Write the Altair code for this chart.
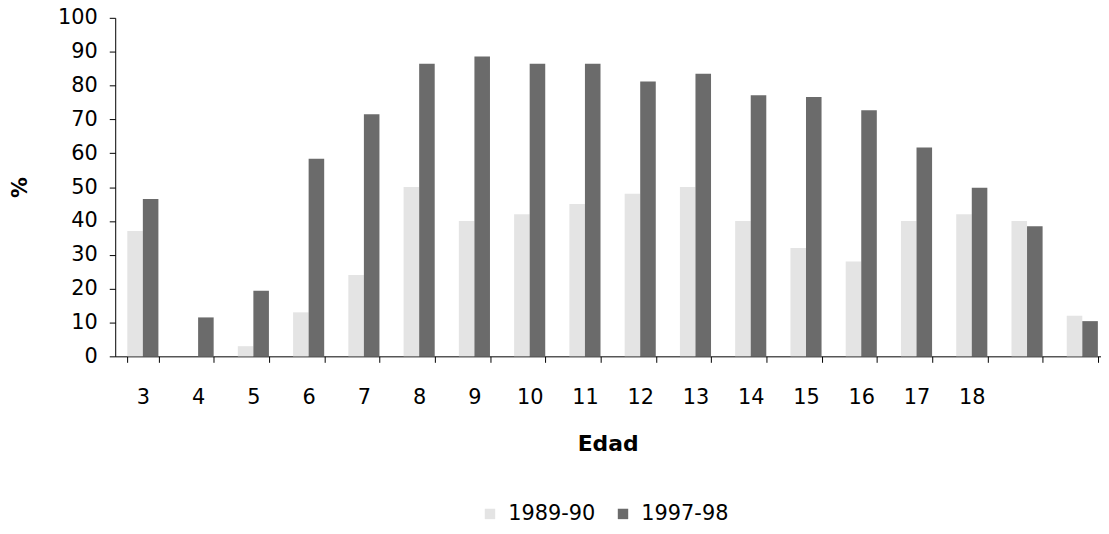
import altair as alt
import pandas as pd

# Ages (the last two categories carry no label in the original)
edad = list(range(3, 21))
# 1989-90 (light, faint stipple) - estimated
s1989 = [37, 0, 3, 13, 24, 50, 40, 42, 45, 48, 50, 40, 32, 28, 40, 42, 40, 12]
# 1997-98 (dark stipple)
s1997 = [46.5, 11.5, 19.4, 58.4, 71.5, 86.4, 88.6, 86.4, 86.4, 81.2, 83.5,
         77.1, 76.6, 72.7, 61.7, 49.8, 38.4, 10.4]
series = ["1989-90", "1997-98"]
colors = ["#e4e4e4", "#6b6b6b"]
y_ticks = list(range(0, 101, 10))

rows = []
for i, e in enumerate(edad):
    rows.append({"Edad": e, "Periodo": series[0], "pct": s1989[i]})
    rows.append({"Edad": e, "Periodo": series[1], "pct": s1997[i]})
df = pd.DataFrame(rows)

FONT = "DejaVu Sans"

chart = alt.Chart(df).mark_bar().encode(
    x=alt.X(
        "Edad:O",
        scale=alt.Scale(paddingInner=0.437, paddingOuter=0.2185),
        axis=alt.Axis(
            title="Edad", labelAngle=0, tickBand="extent", tickSize=6,
            tickColor="black", domainColor="black", labelColor="black",
            labelFont=FONT, labelFontSize=21, labelPadding=24,
            labelExpr="datum.value > 18 ? '' : datum.label",
            titleFont=FONT, titleFontSize=22, titleFontWeight="bold",
            titleColor="black", titleX=496, titleY=88,
            titleBaseline="middle", titleAlign="center",
        ),
    ),
    xOffset=alt.XOffset("Periodo:N", sort=series,
                        scale=alt.Scale(paddingInner=0, paddingOuter=0)),
    y=alt.Y(
        "pct:Q",
        scale=alt.Scale(domain=[0, 100], nice=False),
        axis=alt.Axis(
            title="%", values=y_ticks, grid=False, tickSize=6,
            tickColor="black", domainColor="black", labelColor="black",
            labelFont=FONT, labelFontSize=21, labelPadding=12,
            titleFont=FONT, titleFontSize=21, titleFontWeight="bold",
            titleColor="black", titleAngle=270, titleX=-95, titleY=170.5,
            titleAlign="center", titleBaseline="middle",
        ),
    ),
    color=alt.Color(
        "Periodo:N", sort=series,
        scale=alt.Scale(domain=series, range=colors),
        legend=alt.Legend(
            title=None, orient="none", legendX=367, legendY=489,
            direction="horizontal", symbolType="square", symbolSize=110,
            symbolStrokeWidth=0, labelFont=FONT, labelFontSize=21,
            labelColor="black", labelOffset=8, columnPadding=17,
        ),
    ),
).properties(
    width=1002, height=341,
    autosize=alt.AutoSizeParams(type="none"),
    padding={"left": 108, "top": 8, "right": -9, "bottom": 169},
).configure_view(stroke=None)

chart.save("out.html", embed_options={"renderer": "svg", "actions": False})
